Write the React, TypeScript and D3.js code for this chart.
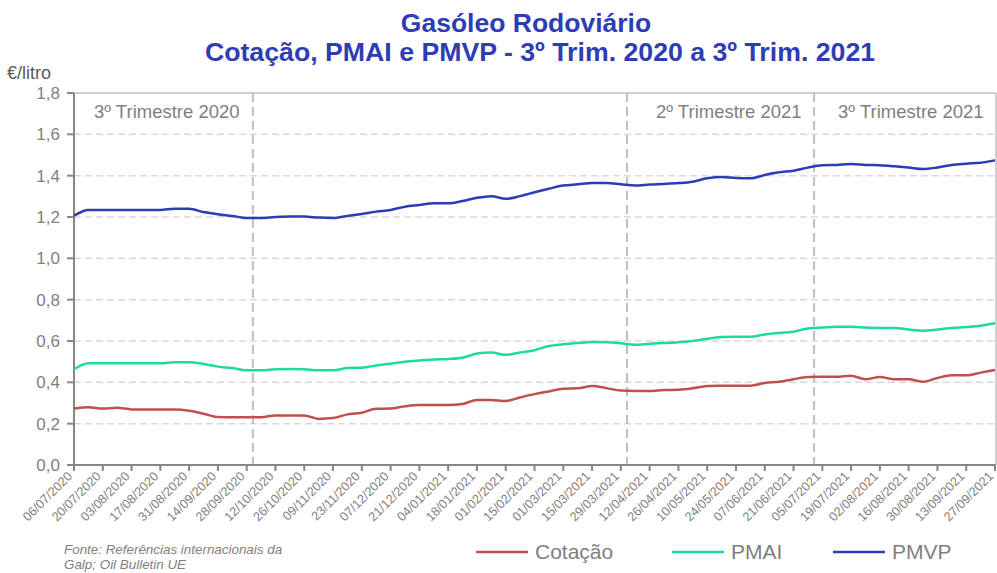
import React from "react";
import * as d3 from "d3";

const startDate = "2020-07-06";
const tickLabels = [
  "06/07/2020","20/07/2020","03/08/2020","17/08/2020","31/08/2020","14/09/2020","28/09/2020",
  "12/10/2020","26/10/2020","09/11/2020","23/11/2020","07/12/2020","21/12/2020","04/01/2021",
  "18/01/2021","01/02/2021","15/02/2021","01/03/2021","15/03/2021","29/03/2021","12/04/2021",
  "26/04/2021","10/05/2021","24/05/2021","07/06/2021","21/06/2021","05/07/2021","19/07/2021",
  "02/08/2021","16/08/2021","30/08/2021","13/09/2021","27/09/2021"
];
const yTicks = [0, 0.2, 0.4, 0.6, 0.8, 1.0, 1.2, 1.4, 1.6, 1.8];

const cotacao = [
  0.273,0.279,0.273,0.277,0.269,0.268,0.268,0.268,0.262,0.248,0.232,0.231,0.231,0.231,0.240,0.240,0.240,
  0.223,0.227,0.245,0.253,0.272,0.273,0.284,0.290,0.290,0.290,0.295,0.315,0.315,0.310,0.327,0.343,
  0.356,0.369,0.371,0.382,0.372,0.360,0.358,0.358,0.363,0.364,0.371,0.382,0.384,0.384,0.384,0.397,
  0.403,0.415,0.426,0.427,0.427,0.432,0.415,0.426,0.415,0.415,0.403,0.421,0.434,0.434,0.447,0.460
];
const pmai = [
  0.463,0.492,0.492,0.492,0.492,0.492,0.492,0.497,0.497,0.489,0.476,0.469,0.458,0.458,0.463,0.465,0.463,
  0.458,0.458,0.469,0.471,0.482,0.490,0.500,0.506,0.511,0.513,0.519,0.539,0.544,0.533,0.545,0.555,
  0.576,0.584,0.590,0.595,0.594,0.589,0.582,0.587,0.590,0.594,0.600,0.611,0.619,0.621,0.621,0.632,
  0.639,0.645,0.661,0.665,0.669,0.669,0.665,0.663,0.663,0.656,0.650,0.656,0.663,0.668,0.674,0.686
];
const pmvp = [
  1.206,1.234,1.234,1.234,1.234,1.234,1.234,1.240,1.240,1.224,1.213,1.205,1.195,1.195,1.200,1.202,1.202,
  1.197,1.195,1.205,1.215,1.226,1.234,1.250,1.258,1.266,1.266,1.277,1.293,1.301,1.288,1.301,1.320,
  1.337,1.352,1.358,1.364,1.364,1.358,1.352,1.357,1.360,1.364,1.371,1.387,1.394,1.389,1.387,1.403,
  1.416,1.424,1.439,1.450,1.452,1.456,1.452,1.450,1.445,1.439,1.432,1.440,1.452,1.458,1.463,1.474
];
const quarterStarts = ["2020-10-01", "2021-04-01", "2021-07-01"];
const quarterLabels = [
  { text: "3º Trimestre 2020", from: "2020-07-06" },
  { text: "2º Trimestre 2021", from: "2021-04-01" },
  { text: "3º Trimestre 2021", from: "2021-07-01" },
];
const seriesNames = ["Cotação", "PMAI", "PMVP"];
const seriesColors = ["#C0504D", "#1FD9A3", "#2B3CB6"];

const FONT = "'Liberation Sans', Arial, sans-serif";

export default function App() {
  const W = 997, H = 573;
  const left = 74, right = 995, top = 93, bottom = 465;
  const t0 = new Date(startDate + "T00:00:00");
  const dateAt = (i: number) => d3.timeDay.offset(t0, i * 7);
  const x = d3.scaleTime().domain([t0, dateAt(64)]).range([left, right]);
  const y = d3.scaleLinear().domain([0, 1.8]).range([bottom, top]);
  const allSeries = [cotacao, pmai, pmvp];
  const line = d3.line<number>().x((_, i) => x(dateAt(i))).y((d) => y(d)).curve(d3.curveMonotoneX);
  const gray = "#7F7F7F";

  return (
    <svg width={W} height={H} style={{ position: "absolute", left: 0, top: 0, background: "#fff" }} fontFamily={FONT}>
      <rect x={0} y={0} width={W} height={H} fill="#fff" />
      <text x={526} y={32} textAnchor="middle" fontSize={26.5} fontWeight="bold" fill="#2E3DB5">Gasóleo Rodoviário</text>
      <text x={540} y={61} textAnchor="middle" fontSize={26.7} fontWeight="bold" fill="#2E3DB5">Cotação, PMAI e PMVP - 3º Trim. 2020 a 3º Trim. 2021</text>
      <text x={7} y={79} fontSize={18} fill="#595959">€/litro</text>

      {/* gridlines */}
      {yTicks.filter((v) => v > 0 && v < 1.8).map((v) => (
        <line key={"g" + v} x1={left} x2={right} y1={y(v)} y2={y(v)} stroke="#D9D9D9" strokeWidth={1.5} strokeDasharray="7,4" />
      ))}
      {/* plot border top/right */}
      <line x1={left} x2={right + 1} y1={top} y2={top} stroke="#BFBFBF" strokeWidth={1.5} />
      <line x1={right + 1} x2={right + 1} y1={top} y2={bottom} stroke="#BFBFBF" strokeWidth={1.5} />

      {/* quarter dividers */}
      {quarterStarts.map((q) => {
        const xx = x(new Date(q + "T00:00:00"));
        return <line key={q} x1={xx} x2={xx} y1={top} y2={bottom} stroke="#BFBFBF" strokeWidth={2} strokeDasharray="9,5" />;
      })}
      {quarterLabels.map((q, i) => {
        const xx = x(new Date(q.from + "T00:00:00"));
        const off = [20, 29, 24][i];
        return <text key={q.text} x={xx + off} y={118} fontSize={18.5} fill={gray}>{q.text}</text>;
      })}

      {/* axes */}
      <line x1={left} x2={left} y1={top} y2={bottom} stroke="#868686" strokeWidth={2} />
      <line x1={left} x2={right + 1} y1={bottom} y2={bottom} stroke="#868686" strokeWidth={2} />
      {yTicks.map((v) => (
        <g key={"y" + v}>
          <line x1={left - 7} x2={left} y1={y(v)} y2={y(v)} stroke="#868686" strokeWidth={2} />
          <text x={60} y={y(v) + 6} textAnchor="end" fontSize={17} fill={gray}>{v.toFixed(1).replace(".", ",")}</text>
        </g>
      ))}
      {tickLabels.map((lab, i) => {
        const xx = x(dateAt(i * 2));
        return (
          <g key={lab}>
            <line x1={xx} x2={xx} y1={bottom} y2={bottom + 6} stroke="#868686" strokeWidth={2} />
            <text transform={`translate(${xx - 1},${bottom + 12}) rotate(-45)`} textAnchor="end" fontSize={12.7} fill={gray}>{lab}</text>
          </g>
        );
      })}

      {/* series */}
      {allSeries.map((s, k) => (
        <path key={seriesNames[k]} d={line(s) || ""} fill="none" stroke={seriesColors[k]} strokeWidth={2.5} strokeLinejoin="round" />
      ))}

      {/* legend */}
      {seriesNames.map((n, k) => {
        const lx = [476, 672, 833][k];
        return (
          <g key={"l" + n}>
            <line x1={lx} x2={lx + 52} y1={552} y2={552} stroke={seriesColors[k]} strokeWidth={2.5} />
            <text x={lx + 59} y={559} fontSize={21} fill={gray}>{n}</text>
          </g>
        );
      })}

      {/* source */}
      <text x={64} y={554} fontSize={13.4} fontStyle="italic" fill={gray}>Fonte: Referências internacionais da</text>
      <text x={64} y={569} fontSize={13.4} fontStyle="italic" fill={gray}>Galp; Oil Bulletin UE</text>
    </svg>
  );
}
